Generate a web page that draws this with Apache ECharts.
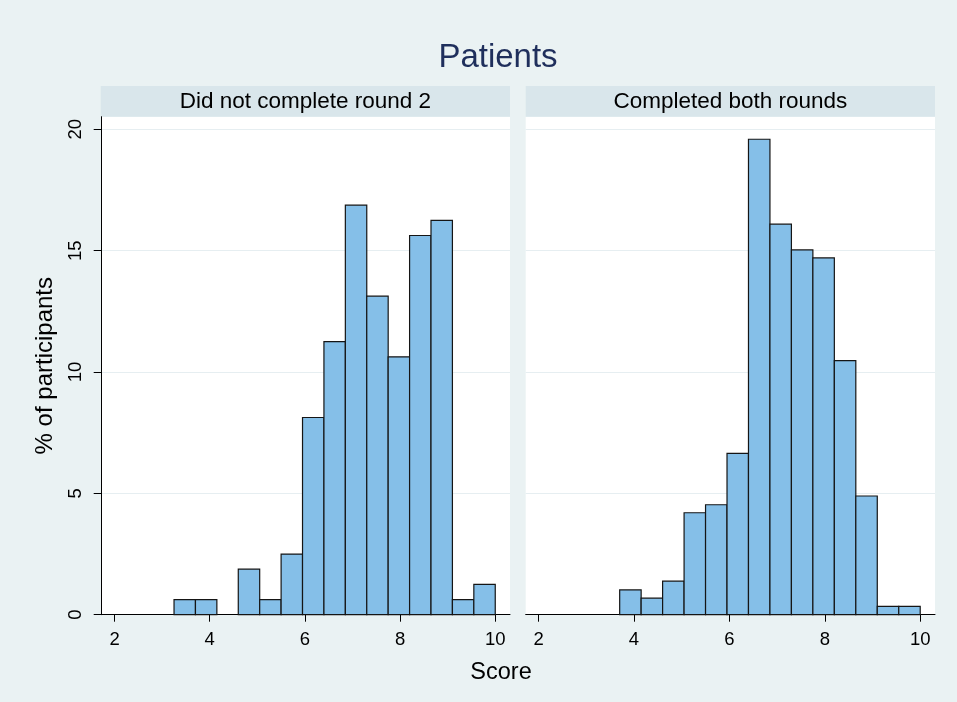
<!DOCTYPE html>
<html>
<head>
<meta charset="utf-8">
<script src="https://cdn.jsdelivr.net/npm/echarts@6/dist/echarts.min.js"></script>
<style>
html,body{margin:0;padding:0;background:#eaf2f3;}
#chart{width:957px;height:702px;}
</style>
</head>
<body>
<div id="chart"></div>
<script>
// ---- data ----
const chartTitle = 'Patients';
const panelTitles = ['Did not complete round 2', 'Completed both rounds'];
const xTitle = 'Score';
const yTitle = '% of participants';
const xTicks = [2, 4, 6, 8, 10];
const yTicks = [0, 5, 10, 15, 20];

// bin edges (score) and bar heights (% of participants)
const edgesNotCompleted = [3.25, 3.70, 4.15, 4.60, 5.05, 5.50, 5.95, 6.40, 6.85, 7.30, 7.75, 8.20, 8.65, 9.10, 9.55, 10.00];
const valuesNotCompleted = [0.625, 0.625, 0, 1.875, 0.625, 2.5, 8.125, 11.25, 16.875, 13.125, 10.625, 15.625, 16.25, 0.625, 1.25];

const edgesCompleted = [3.70, 4.15, 4.60, 5.05, 5.50, 5.95, 6.40, 6.85, 7.30, 7.75, 8.20, 8.65, 9.10, 9.55, 10.00];
const valuesCompleted = [1.02, 0.68, 1.38, 4.2, 4.53, 6.65, 19.59, 16.09, 15.03, 14.70, 10.47, 4.89, 0.34, 0.34];

// ---- chart ----
const FONT = '"Liberation Sans", Arial, Helvetica, sans-serif';
const BAR_FILL = '#85bfe8';
const BAR_STROKE = '#151515';
const BG = '#eaf2f3';
const HEADER_BG = '#d9e6eb';
const GRID_COLOR = '#e6eef1';

function toBins(edges, values) {
  return values.map((v, i) => [edges[i], edges[i + 1], v]);
}

function renderBar(params, api) {
  const x0 = api.value(0), x1 = api.value(1), v = api.value(2);
  if (!(v > 0)) return null;
  const pTop = api.coord([x0, v]);
  const pBot = api.coord([x1, 0]);
  return {
    type: 'rect',
    shape: { x: pTop[0], y: pTop[1], width: pBot[0] - pTop[0], height: pBot[1] - pTop[1] },
    style: { fill: BAR_FILL, stroke: BAR_STROKE, lineWidth: 1.2 }
  };
}

const gridTop = 116.7, gridBottom = 87.3;
const grids = [
  { left: 101.7, right: 447, top: gridTop, bottom: gridBottom, show: true, backgroundColor: '#ffffff', borderWidth: 0 },
  { left: 525.7, right: 22, top: gridTop, bottom: gridBottom, show: true, backgroundColor: '#ffffff', borderWidth: 0 }
];

function xAxisFor(i) {
  return {
    type: 'value', gridIndex: i, min: 1.73, max: 10.31,
    axisLine: { show: true, onZero: false, lineStyle: { color: '#000', width: 1 } },
    axisTick: { show: true, length: 7, customValues: xTicks, lineStyle: { color: '#000', width: 1 } },
    axisLabel: { show: true, customValues: xTicks, margin: 16, fontSize: 18.5, color: '#000', fontFamily: FONT },
    splitLine: { show: false }
  };
}

function yAxisFor(i) {
  const isLeft = i === 0;
  return {
    type: 'value', gridIndex: i, min: 0, max: 20.52,
    name: isLeft ? yTitle : '',
    nameLocation: 'middle', nameRotate: 90, nameGap: 44,
    nameTextStyle: { fontSize: 24, color: '#000', fontFamily: FONT },
    axisLine: { show: isLeft, lineStyle: { color: '#000', width: 1 } },
    axisTick: { show: isLeft, length: 8, customValues: yTicks, lineStyle: { color: '#000', width: 1 } },
    axisLabel: { show: isLeft, customValues: yTicks, rotate: 90, margin: 16, fontSize: 18.5, color: '#000', fontFamily: FONT },
    splitLine: { show: true, lineStyle: { color: GRID_COLOR, width: 1 } }
  };
}

const chart = echarts.init(document.getElementById('chart'), null, { renderer: 'canvas' });

const headerBoxes = [
  { x: 100.7, w: 409.3 },
  { x: 525.7, w: 409.3 }
];

chart.setOption({
  backgroundColor: BG,
  animation: false,
  title: [
    { text: chartTitle, left: 493, top: 36, textAlign: 'center',
      textStyle: { fontSize: 33, fontWeight: 'normal', color: '#1f2f5c', fontFamily: FONT } },
    { text: xTitle, left: 496, top: 656, textAlign: 'center',
      textStyle: { fontSize: 23.5, fontWeight: 'normal', color: '#000', fontFamily: FONT } }
  ],
  graphic: headerBoxes.map((b, i) => ({
    type: 'group',
    left: b.x, top: 86,
    children: [
      { type: 'rect', shape: { x: 0, y: 0, width: b.w, height: 30.7 }, style: { fill: HEADER_BG } },
      { type: 'text', x: b.w / 2, y: 15.3,
        style: { text: panelTitles[i], fill: '#000', font: '22.5px ' + FONT, align: 'center', verticalAlign: 'middle' } }
    ]
  })),
  grid: grids,
  xAxis: [xAxisFor(0), xAxisFor(1)],
  yAxis: [yAxisFor(0), yAxisFor(1)],
  series: [
    { type: 'custom', xAxisIndex: 0, yAxisIndex: 0, renderItem: renderBar,
      encode: { x: [0, 1], y: 2 }, data: toBins(edgesNotCompleted, valuesNotCompleted) },
    { type: 'custom', xAxisIndex: 1, yAxisIndex: 1, renderItem: renderBar,
      encode: { x: [0, 1], y: 2 }, data: toBins(edgesCompleted, valuesCompleted) }
  ]
});
</script>
</body>
</html>
